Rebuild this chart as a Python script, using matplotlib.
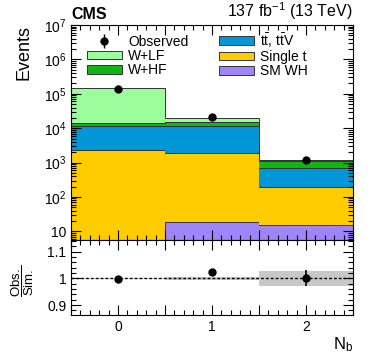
import matplotlib
matplotlib.use('Agg')
from matplotlib import pyplot as plt
from matplotlib.ticker import MultipleLocator, FixedLocator, FuncFormatter, LogLocator, NullFormatter
from matplotlib.patches import Patch
import numpy as np

plt.rcParams['font.family'] = ['Liberation Sans', 'DejaVu Sans']
plt.rcParams['mathtext.fontset'] = 'custom'
plt.rcParams['mathtext.rm'] = 'Liberation Sans'
plt.rcParams['mathtext.it'] = 'Liberation Sans'

# data
nb_bins = [0, 1, 2]
edges = [-0.5, 0.5, 1.5, 2.5]
sm_wh = [3, 18, 15]
single_t = [2300, 1880, 178]
ttbar = [9500, 9900, 497]
w_hf = [2200, 3700, 390]
w_lf = [131000, 4500, 90]
observed = [140000, 20500, 1150]
ratio = [0.997, 1.023, 1.003]
ratio_err = [0.002, 0.004, 0.03]
band_unc = [0.002, 0.006, 0.028]

labels = ['SM WH', 'Single t', r'$\mathrm{t\bar{t}}$, $\mathrm{t\bar{t}V}$', 'W+HF', 'W+LF']
colors = ['#a085fa', '#ffcc00', '#0096d8', '#13b413', '#9bfd9b']
stack = [sm_wh, single_t, ttbar, w_hf, w_lf]

fig = plt.figure(figsize=(3.74, 3.59), dpi=100)
ax = fig.add_axes([0.19, 0.331, 0.754, 0.599])
ax2 = fig.add_axes([0.19, 0.1226, 0.754, 0.2084], sharex=ax)

bottom = np.zeros(3)
for vals, col in zip(stack, colors):
    top = bottom + np.array(vals)
    ax.stairs(top, edges, baseline=bottom, fill=True, color=col, lw=0)
    ax.stairs(top, edges, baseline=None, color='#333333', lw=0.7)
    bottom = top

ax.errorbar(nb_bins, observed, yerr=np.sqrt(observed), fmt='o', color='black',
            ms=5, lw=1, capsize=0)

ax.set_yscale('log')
ax.set_ylim(5.5, 1e7)
ax.set_xlim(-0.5, 2.5)

def logfmt(v, pos):
    e = int(round(np.log10(v)))
    if e == 1:
        return '10'
    return r'$\mathdefault{10^{%d}}$' % e

ax.yaxis.set_major_locator(LogLocator(base=10, numticks=20))
ax.yaxis.set_major_formatter(FuncFormatter(logfmt))
ax.yaxis.set_minor_locator(LogLocator(base=10, subs=np.arange(2, 10), numticks=20))
ax.yaxis.set_minor_formatter(NullFormatter())

for a in (ax, ax2):
    a.xaxis.set_major_locator(MultipleLocator(0.5))
    a.xaxis.set_minor_locator(MultipleLocator(0.1))
    a.tick_params(which='both', direction='in', top=True, right=True, labelsize=10)
    a.tick_params(which='major', length=7, width=0.8)
    a.tick_params(which='minor', length=3.5, width=0.8)
    for s in a.spines.values():
        s.set_linewidth(0.8)
ax.tick_params(labelbottom=False)
ax2.xaxis.set_major_formatter(FuncFormatter(lambda v, p: '%d' % v if abs(v - round(v)) < 1e-6 else ''))

ax.set_ylabel('Events', fontsize=13, loc='top')
ax.yaxis.set_label_coords(-0.135, 1.0)

ax.text(0.0, 1.015, 'CMS', transform=ax.transAxes, fontsize=11.5, fontweight='bold',
        ha='left', va='bottom')
ax.text(1.0, 1.015, r'137 fb$^{-1}$ (13 TeV)', transform=ax.transAxes, fontsize=11.5,
        ha='right', va='bottom')

# legend
obs_h = ax.errorbar([], [], yerr=[], fmt='o', color='black', ms=5, lw=1)
h = [obs_h,
     Patch(facecolor=colors[4], edgecolor='#333333', lw=0.7),
     Patch(facecolor=colors[3], edgecolor='#333333', lw=0.7),
     Patch(facecolor=colors[2], edgecolor='#333333', lw=0.7),
     Patch(facecolor=colors[1], edgecolor='#333333', lw=0.7),
     Patch(facecolor=colors[0], edgecolor='#333333', lw=0.7)]
l = ['Observed', 'W+LF', 'W+HF', labels[2], 'Single t', 'SM WH']
ax.legend(h, l, ncol=2, frameon=False, fontsize=10, loc='upper left',
          bbox_to_anchor=(87 / 374, 1 - 31 / 359), bbox_transform=fig.transFigure,
          borderpad=0, borderaxespad=0, handlelength=2.5, handleheight=0.58,
          handletextpad=0.45, columnspacing=2.2, labelspacing=0.02)

# ratio panel
ax2.stairs(np.ones(3) + band_unc, edges, baseline=np.ones(3) - band_unc, fill=True,
           color='#c8c8c8', lw=0)
ax2.axhline(1.0, color='black', ls=(0, (2, 1.5)), lw=1)
ax2.errorbar(nb_bins, ratio, yerr=ratio_err, fmt='o', color='black', ms=5, lw=1.2, capsize=0)
ax2.set_ylim(0.863, 1.143)
ax2.yaxis.set_major_locator(FixedLocator([0.9, 1.0, 1.1]))
ax2.yaxis.set_major_formatter(FuncFormatter(lambda v, p: '%g' % round(v, 2)))
ax2.yaxis.set_minor_locator(MultipleLocator(0.02))
ax2.set_ylabel(r'$\dfrac{\mathrm{Obs.}}{\mathrm{Sim.}}$', fontsize=9.5)
ax2.yaxis.set_label_coords(-0.125, 0.45)
ax2.set_xlabel(r'N$_{\mathrm{b}}$', fontsize=12, loc='right', labelpad=1)

fig.savefig('out.png', dpi=100)
